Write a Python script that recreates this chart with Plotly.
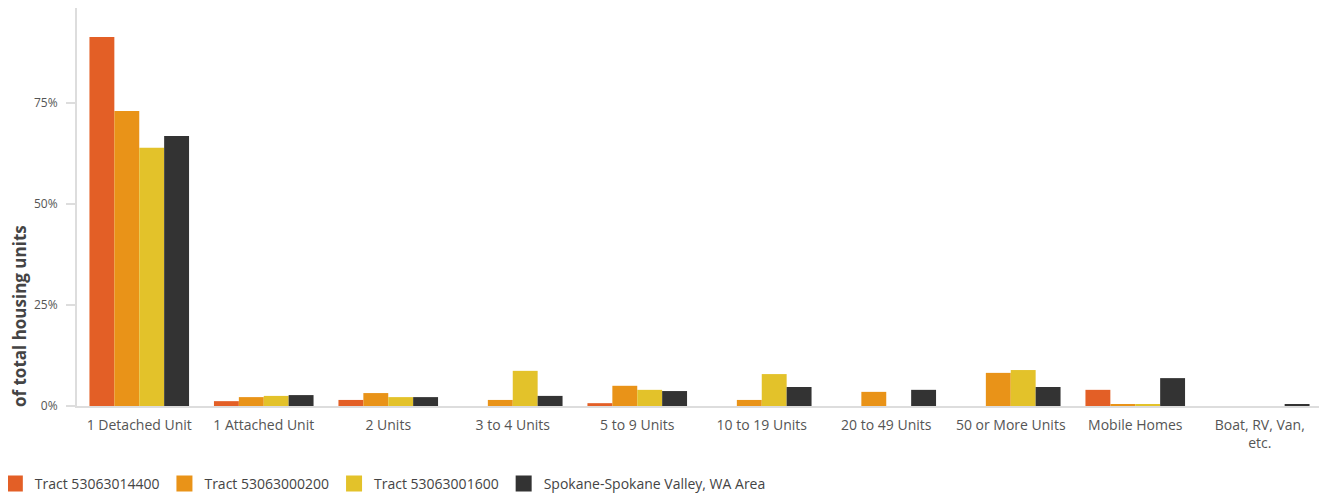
import plotly.graph_objects as go

# housing structure categories
categories = ["1 Detached Unit", "1 Attached Unit", "2 Units", "3 to 4 Units",
              "5 to 9 Units", "10 to 19 Units", "20 to 49 Units",
              "50 or More Units", "Mobile Homes", "Boat, RV, Van,<br>etc."]

# shares of total housing units (fractions)
tract_14400 = [0.913, 0.012, 0.015, 0.0, 0.007, 0.0, 0.0, 0.0, 0.040, 0.0]
tract_00200 = [0.730, 0.022, 0.032, 0.015, 0.050, 0.015, 0.035, 0.082, 0.005, 0.0]
tract_01600 = [0.639, 0.025, 0.022, 0.087, 0.040, 0.079, 0.0, 0.089, 0.005, 0.0]
spokane_area = [0.668, 0.027, 0.022, 0.025, 0.037, 0.047, 0.040, 0.047, 0.069, 0.0025]

series = [
    ("Tract 53063014400", tract_14400, "#E35F26"),
    ("Tract 53063000200", tract_00200, "#E99318"),
    ("Tract 53063001600", tract_01600, "#E3C22A"),
    ("Spokane-Spokane Valley, WA Area", spokane_area, "#333333"),
]

fig = go.Figure()
for name, vals, color in series:
    fig.add_trace(go.Bar(x=categories, y=vals, name=name, legendgroup=name,
                         showlegend=False,
                         marker=dict(color=color, line=dict(width=0))))
    # legend-only entry so the key swatch is a larger square
    fig.add_trace(go.Scatter(x=[None], y=[None], mode="markers", name=name,
                             legendgroup=name,
                             marker=dict(symbol="square", size=16, color=color)))

# axis title sits low, ending at the baseline -> annotation instead of yaxis title
fig.add_annotation(
    text="<b>of total housing units</b>", textangle=-90,
    xref="paper", yref="paper", x=-0.0466, y=0.226,
    xanchor="center", yanchor="middle", showarrow=False,
    font=dict(size=17, color="#444444"),
)

# page body adds an 8px offset, so the figure is sized/margined to compensate
fig.update_layout(
    width=1319,
    height=490,
    barmode="group",
    bargap=0.2,
    bargroupgap=0,
    plot_bgcolor="white",
    paper_bgcolor="white",
    font=dict(family="Open Sans, sans-serif", color="#555555", size=13),
    margin=dict(l=69, r=5, t=0, b=92, autoexpand=False),
    xaxis=dict(
        automargin=False,
        showline=True, linecolor="#DDDDDD", linewidth=2,
        showgrid=False, ticks="", ticklabelstandoff=5,
        tickfont=dict(size=14, color="#555555"),
    ),
    yaxis=dict(
        automargin=False,
        range=[0, 0.985], tickvals=[0, 0.25, 0.5, 0.75], tickformat=".0%",
        showline=True, linecolor="#DDDDDD", linewidth=2,
        showgrid=False, zeroline=False,
        ticks="outside", ticklen=9, tickcolor="#DDDDDD", tickwidth=2,
        ticklabelstandoff=6,
        tickfont=dict(size=12, color="#555555"),
    ),
    legend=dict(
        orientation="h", x=-0.066, xanchor="left", y=-0.196, yanchor="middle",
        font=dict(size=14, color="#444444"),
    ),
    showlegend=True,
)

fig.write_html("out.html")
